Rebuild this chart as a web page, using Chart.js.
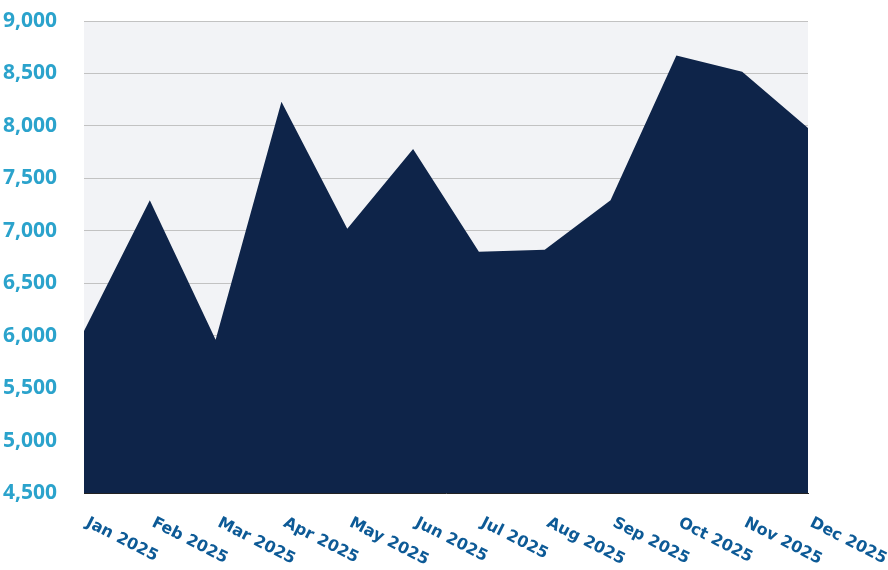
<!DOCTYPE html>
<html>
<head>
<meta charset="utf-8">
<script src="https://cdn.jsdelivr.net/npm/chart.js@4"></script>
<style>
  html, body { margin: 0; padding: 0; background: #fff; }
  #wrap { width: 888px; height: 570px; }
</style>
</head>
<body>
<div id="wrap"><canvas id="chart"></canvas></div>
<script>
// dados do gráfico
const months = ['Jan 2025', 'Feb 2025', 'Mar 2025', 'Apr 2025', 'May 2025', 'Jun 2025',
                'Jul 2025', 'Aug 2025', 'Sep 2025', 'Oct 2025', 'Nov 2025', 'Dec 2025'];
const values = [6045, 7290, 5960, 8230, 7020, 7780, 6800, 6820, 7290, 8670, 8515, 7980];
const yMin = 4500;
const yMax = 9000;
const yStep = 500;

// fundo cinza só dentro da área do gráfico
const areaBg = {
    id: 'areaBg',
    beforeDraw(chart) {
        const { ctx, chartArea: a } = chart;
        ctx.save();
        ctx.fillStyle = '#f2f3f6';
        ctx.fillRect(a.left, a.top, a.right - a.left, a.bottom - a.top);
        ctx.restore();
    }
};

// rótulos do eixo x inclinados para baixo (o Chart.js só gira para o outro lado)
const slantLabels = {
    id: 'slantLabels',
    afterDraw(chart) {
        const { ctx } = chart;
        const x = chart.scales.x;
        ctx.save();
        ctx.fillStyle = '#0d5a96';
        ctx.font = "bold 16px 'DejaVu Sans', sans-serif";
        ctx.textAlign = 'left';
        ctx.textBaseline = 'middle';
        months.forEach((m, i) => {
            const px = x.getPixelForTick(i);
            ctx.save();
            ctx.translate(px + 3, x.top + 29);
            ctx.rotate(27 * Math.PI / 180);
            ctx.fillText(m, 0, 0);
            ctx.restore();
        });
        ctx.restore();
    }
};

new Chart(document.getElementById('chart'), {
    type: 'line',
    data: {
        labels: months,
        datasets: [{
            data: values,
            fill: 'start',
            backgroundColor: '#0e2449',
            borderColor: '#0e2449',
            borderWidth: 0,
            pointRadius: 0,
            tension: 0
        }]
    },
    options: {
        responsive: true,
        maintainAspectRatio: false,
        animation: false,
        layout: { padding: { top: 21, right: 80, bottom: 69, left: 0 } },
        plugins: { legend: { display: false }, tooltip: { enabled: false } },
        scales: {
            x: {
                grid: { display: false },
                border: { display: true, color: '#222', width: 1 },
                ticks: { display: false }
            },
            y: {
                min: yMin,
                max: yMax,
                afterFit: s => { s.width = 84; s.paddingTop = 0; },
                ticks: {
                    stepSize: yStep,
                    padding: 27,
                    color: '#2ba3cc',
                    font: { size: 21, weight: 'bold', family: "'Open Sans', sans-serif" },
                    callback: v => v.toLocaleString('en-US')
                },
                grid: { color: '#c2c2c2', drawTicks: false },
                border: { display: false }
            }
        }
    },
    plugins: [areaBg, slantLabels]
});
</script>
</body>
</html>
